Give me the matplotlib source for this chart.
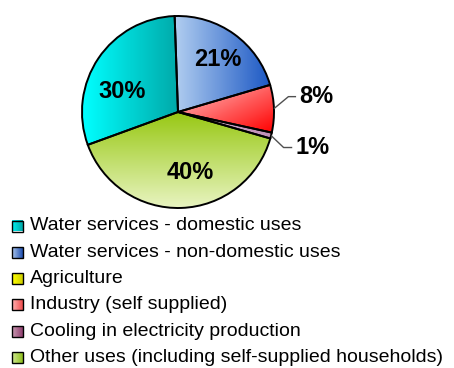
import numpy as np
import matplotlib
matplotlib.use("Agg")
import matplotlib.pyplot as plt
from matplotlib.colors import LinearSegmentedColormap
from matplotlib.patches import Rectangle

categories = ["Water services - domestic uses",
              "Water services - non-domestic uses",
              "Agriculture",
              "Industry (self supplied)",
              "Cooling in electricity production",
              "Other uses (including self-supplied households)"]
shares = [30, 21, 0, 8, 1, 40]
pct_labels = ["30%", "21%", "", "8%", "1%", "40%"]

# style
grad = [("#00FFFF", "#00AAAA", "h"),
        ("#B0CDF0", "#1C58C4", "h"),
        ("#FFFF40", "#C8C800", "h"),
        ("#FFC4C4", "#FF0000", "d"),
        ("#D8B4D2", "#C090B8", "h"),
        ("#98C814", "#E8F4C0", "v")]
legend_colors = [("#00F0F0", "#00A8A8"), ("#A8C4EC", "#2050B0"),
                 ("#FFFF00", "#D0D000"), ("#FFB0B0", "#F05050"),
                 ("#C898B0", "#904070"), ("#D0E890", "#90C020")]

W, H = 454, 368
fig = plt.figure(figsize=(W / 100, H / 100), dpi=100)
ax = fig.add_axes([0, 0, 1, 1])

cx, cy, R = 178, H - 112, 96
wedges, _ = ax.pie(shares, startangle=200, counterclock=False,
                   center=(cx, cy), radius=R, frame=True,
                   wedgeprops=dict(edgecolor="black", linewidth=1.4, facecolor="none"))

for w, (c1, c2, d) in zip(wedges, grad):
    if w.theta1 == w.theta2:
        continue
    n = 64
    xs, ys = np.meshgrid(np.linspace(0, 1, n), np.linspace(0, 1, n))
    if d == "h":
        g = xs
    elif d == "v":
        g = ys
    else:
        g = (xs + ys) / 2
    cmap = LinearSegmentedColormap.from_list("g", [c1, c2])
    bb = w.get_path().get_extents(w.get_patch_transform())
    ext = [bb.x0, bb.x1, bb.y0, bb.y1]
    im = ax.imshow(g, cmap=cmap, extent=ext, origin="upper", zorder=1,
                   interpolation="bilinear", vmin=0, vmax=1, aspect="auto")
    im.set_clip_path(w)
    w.set_zorder(2)

# percentage labels
inside_offsets = {0: (-0.02, -0.17), 1: (0.02, 0.0), 5: (0.10, 0.05)}
outside_pos = {3: ((1.15, 0.16), (1.23, 0.16)), 4: ((1.10, -0.37), (1.19, -0.37))}
for i, w in enumerate(wedges):
    if not pct_labels[i]:
        continue
    mid = np.deg2rad((w.theta1 + w.theta2) / 2)
    if i in outside_pos:
        (ex, ey), (hx, hy) = outside_pos[i]
        sx, sy = cx + R * np.cos(mid), cy + R * np.sin(mid)
        ax.plot([sx, cx + ex * R, cx + hx * R], [sy, cy + ey * R, cy + hy * R],
                color="#505050", lw=1.0, zorder=3, solid_capstyle="butt")
        ax.text(cx + hx * R + 3, cy + hy * R, pct_labels[i], ha="left", va="center",
                fontsize=17, fontweight="bold", family="Liberation Sans", zorder=4)
    else:
        ox, oy = inside_offsets.get(i, (0, 0))
        tx = cx + R * (0.68 * np.cos(mid) + ox)
        ty = cy + R * (0.68 * np.sin(mid) + oy)
        ax.text(tx, ty, pct_labels[i], ha="center", va="center",
                fontsize=17, fontweight="bold", family="Liberation Sans", zorder=4)

# legend
y0, dy = 226, 26.3
for i, (lab, (c1, c2)) in enumerate(zip(categories, legend_colors)):
    yc = H - (y0 + i * dy)
    g = np.linspace(0, 1, 16)[None, :]
    cmap = LinearSegmentedColormap.from_list("lg", [c1, c2])
    ax.imshow(g, cmap=cmap, extent=[12, 23, yc - 5.5, yc + 5.5], zorder=3,
              interpolation="bilinear", aspect="auto")
    ax.add_patch(Rectangle((12, yc - 5.5), 11, 11, facecolor="none",
                           edgecolor="black", lw=1.0, zorder=4))
    ax.text(30, yc, lab, ha="left", va="center", fontsize=14,
            family="Liberation Sans", zorder=4)

ax.set_xlim(0, W)
ax.set_ylim(0, H)
ax.set_aspect("equal")
ax.axis("off")
fig.savefig("out.png", dpi=100)
